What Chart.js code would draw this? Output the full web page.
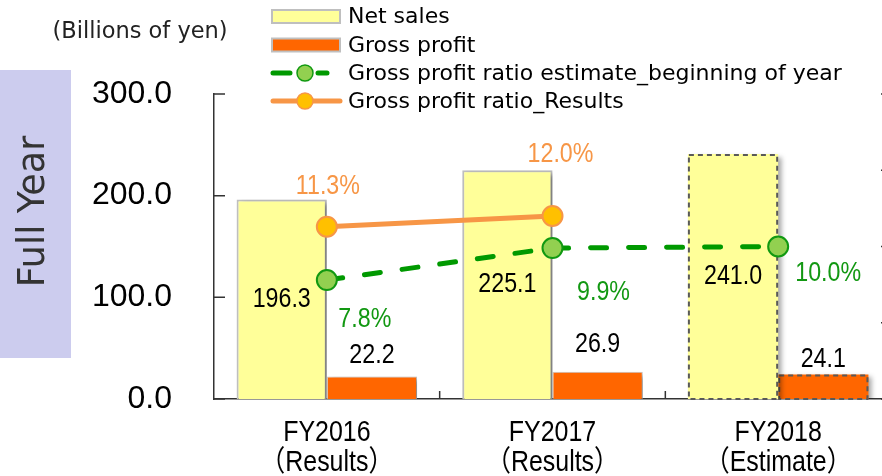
<!DOCTYPE html>
<html><head><meta charset="utf-8">
<script src="https://cdn.jsdelivr.net/npm/chart.js@4.4.1/dist/chart.umd.min.js"></script>
<style>
html,body{margin:0;padding:0;overflow:hidden;background:#fff;width:882px;height:476px}
#wrap{position:absolute;left:0;top:0;width:891px;height:476px}
</style>
</head><body><div id="wrap"><canvas id="c" width="891" height="476"></canvas></div>
<script>
// ---- data ----
const categories = [['FY2016', '（Results）'], ['FY2017', '（Results）'], ['FY2018', '（Estimate）']];
const netSales = [196.3, 225.1, 241.0];
const grossProfit = [22.2, 26.9, 24.1];
const ratioEstimate = [7.8, 9.9, 10.0];
const ratioResults = [11.3, 12.0, null];
const isEstimate = [false, false, true];
const seriesNames = ['Net sales', 'Gross profit', 'Gross profit ratio estimate_beginning of year', 'Gross profit ratio_Results'];
const unitLabel = '(Billions of yen)';
const panelLabel = 'Full Year';
const amountTicks = [0, 100, 200, 300];
const ratioTicks = [0, 5, 10, 15, 20];

const SANS = "'Liberation Sans', 'Noto Sans CJK JP', sans-serif";
const DEJAVU = "'DejaVu Sans', sans-serif";

// draw horizontally condensed text (mimics the narrow Japanese gothic digits)
function condensedText(ctx, text, x, y, size, color, squeeze, baseline) {
  ctx.save();
  ctx.translate(x, y);
  ctx.scale(squeeze, 1);
  ctx.fillStyle = color;
  ctx.font = size + 'px ' + SANS;
  ctx.textAlign = 'center';
  ctx.textBaseline = baseline;
  ctx.fillText(text, 0, 0);
  ctx.restore();
}

// ---- plugins ----
const decorPlugin = {
  id: 'decor',
  beforeDraw(chart) {
    const ctx = chart.ctx;
    ctx.save();
    ctx.fillStyle = '#ccccee';
    ctx.fillRect(0, 70, 71, 288);
    ctx.fillStyle = '#333';
    ctx.font = '36.5px ' + DEJAVU;
    ctx.textAlign = 'center';
    ctx.textBaseline = 'alphabetic';
    ctx.translate(44, 211.5);
    ctx.rotate(-Math.PI / 2);
    ctx.fillText(panelLabel, 0, 0);
    ctx.restore();
    ctx.save();
    ctx.fillStyle = '#222';
    ctx.font = '22.5px ' + DEJAVU;
    ctx.textAlign = 'center';
    ctx.textBaseline = 'alphabetic';
    ctx.fillText(unitLabel, 140, 38);
    ctx.restore();
  },
  beforeDatasetDraw(chart, args) {
    const ds = chart.data.datasets[args.index];
    if (ds.type === 'bar') {
      const ctx = chart.ctx;
      ctx.save();
      ctx.shadowColor = 'rgba(0,0,0,0.35)';
      ctx.shadowBlur = 5;
      ctx.shadowOffsetX = 4;
      ctx.shadowOffsetY = 3;
    }
  },
  afterDatasetDraw(chart, args) {
    const ds = chart.data.datasets[args.index];
    if (ds.type === 'bar') {
      const ctx = chart.ctx;
      ctx.restore();
      ctx.save();
      ctx.strokeStyle = '#595959';
      ctx.lineWidth = 2;
      ctx.setLineDash([5, 4]);
      args.meta.data.forEach((el, i) => {
        if (!isEstimate[i]) return;
        const p = el.getProps(['x', 'y', 'base', 'width'], true);
        ctx.strokeRect(p.x - p.width / 2 + 1, p.y + 1, p.width - 2, p.base - p.y - 1);
      });
      ctx.restore();
    }
  },
  afterDraw(chart) {
    const ctx = chart.ctx;
    const a = chart.chartArea;
    const {x, y, y1} = chart.scales;
    ctx.save();
    ctx.strokeStyle = '#333';
    ctx.lineWidth = 1.5;
    ctx.beginPath();
    amountTicks.forEach(v => {
      const py = y.getPixelForValue(v);
      ctx.moveTo(a.left, py); ctx.lineTo(a.left + 11, py);
    });
    ratioTicks.forEach(v => {
      const py = y1.getPixelForValue(v);
      ctx.moveTo(a.right - 10, py); ctx.lineTo(a.right, py);
    });
    for (let i = 0; i < categories.length - 1; i++) {
      const px = (x.getPixelForValue(i) + x.getPixelForValue(i + 1)) / 2;
      ctx.moveTo(px, a.bottom); ctx.lineTo(px, a.bottom - 8);
    }
    ctx.stroke();
    ctx.restore();

    // category labels, placed by the category scale
    categories.forEach((lines, i) => {
      const px = x.getPixelForValue(i);
      lines.forEach((t, j) => {
        condensedText(ctx, t, px, a.bottom + 42 + j * 30, 29, '#000', 0.86, 'alphabetic');
      });
    });

    // legend
    const rows = [16.5, 45, 73, 101];
    chart.data.datasets.forEach((ds, i) => {
      const ry = rows[i];
      ctx.save();
      if (ds.type === 'bar') {
        ctx.fillStyle = ds.backgroundColor;
        ctx.fillRect(272, ry - 6.5, 68, 13);
        ctx.strokeStyle = '#bfbfbf';
        ctx.lineWidth = 2;
        ctx.strokeRect(272, ry - 6.5, 68, 13);
      } else {
        ctx.strokeStyle = ds.borderColor;
        ctx.lineWidth = 5;
        ctx.lineCap = 'round';
        ctx.beginPath();
        if (ds.borderDash) {
          ctx.moveTo(273, ry); ctx.lineTo(290, ry);
          ctx.moveTo(318, ry); ctx.lineTo(327, ry);
        } else {
          ctx.moveTo(273, ry); ctx.lineTo(340, ry);
        }
        ctx.stroke();
        ctx.beginPath();
        ctx.arc(305, ry, 8, 0, Math.PI * 2);
        ctx.fillStyle = ds.pointBackgroundColor;
        ctx.fill();
        ctx.lineWidth = 1.5;
        ctx.strokeStyle = ds.pointBorderColor;
        ctx.stroke();
      }
      ctx.fillStyle = '#000';
      ctx.font = '22px ' + DEJAVU;
      ctx.textAlign = 'left';
      ctx.textBaseline = 'middle';
      ctx.fillText(ds.label, 348, ry + 1);
      ctx.restore();
    });
  }
};

const valueLabelPlugin = {
  id: 'valueLabels',
  afterDatasetsDraw(chart, args, opts) {
    const ctx = chart.ctx;
    opts.items.forEach(item => {
      const meta = chart.getDatasetMeta(item.ds);
      const data = chart.data.datasets[item.ds].data;
      meta.data.forEach((el, i) => {
        const v = data[i];
        if (v === null || v === undefined) return;
        const p = el.getProps(['x', 'y', 'base'], true);
        const cx = p.x + (item.dx ? item.dx[i] : 0);
        let cy = item.place === 'middle' ? (p.y + p.base) / 2 : p.y;
        cy += item.dy ? item.dy[i] : 0;
        condensedText(ctx, item.fmt(v), cx, cy, 27, item.color, 0.86, 'middle');
      });
    });
  }
};

const pct = v => v.toFixed(1) + '%';
const num = v => v.toFixed(1);

new Chart(document.getElementById('c'), {
  type: 'bar',
  data: {
    labels: categories,
    datasets: [
      { type: 'bar', label: seriesNames[0], data: netSales, yAxisID: 'y', order: 2,
        backgroundColor: '#ffff99', borderColor: '#bfbfbf',
        borderWidth: c => isEstimate[c.dataIndex] ? 0 : 2,
        categoryPercentage: 0.8, barPercentage: 1 },
      { type: 'bar', label: seriesNames[1], data: grossProfit, yAxisID: 'y', order: 2,
        backgroundColor: '#ff6600', borderColor: '#c8c8c8',
        borderWidth: c => isEstimate[c.dataIndex] ? 0 : 1,
        categoryPercentage: 0.8, barPercentage: 1 },
      { type: 'line', label: seriesNames[2], data: ratioEstimate, yAxisID: 'y1', order: 1,
        borderColor: '#009900', borderWidth: 5, borderDash: [16, 22], borderCapStyle: 'round',
        pointRadius: 10, pointHoverRadius: 10, pointBackgroundColor: '#92d050', pointBorderColor: '#119911',
        pointBorderWidth: 2, fill: false, tension: 0 },
      { type: 'line', label: seriesNames[3], data: ratioResults, yAxisID: 'y1', order: 0,
        borderColor: '#f79646', borderWidth: 5,
        pointRadius: 10, pointHoverRadius: 10, pointBackgroundColor: '#ffc000', pointBorderColor: '#f79646',
        pointBorderWidth: 2, fill: false, tension: 0 }
    ]
  },
  options: {
    responsive: false,
    devicePixelRatio: 1,
    animation: false,
    events: [],
    layout: { autoPadding: false, padding: { top: 94, left: 0, right: 0, bottom: 0 } },
    scales: {
      x: {
        type: 'category', offset: true,
        grid: { display: false, drawTicks: false },
        border: { display: true, color: '#333', width: 1.5 },
        ticks: { display: false },
        afterFit: s => { s.height = 77; s.paddingLeft = 0; s.paddingRight = 0; }
      },
      y: {
        position: 'left', min: 0, max: 300,
        afterBuildTicks: s => { s.ticks = amountTicks.map(v => ({ value: v })); },
        ticks: { callback: v => num(v), color: '#000', font: { family: "'Liberation Sans', sans-serif", size: 32 }, padding: 42 },
        grid: { display: false, drawTicks: false },
        border: { display: true, color: '#333', width: 1.5 },
        afterFit: s => { s.width = 214; }
      },
      y1: {
        position: 'right', min: 0, max: 20, display: false,
        grid: { display: false }
      }
    },
    plugins: {
      legend: { display: false },
      tooltip: { enabled: false },
      valueLabels: {
        items: [
          { ds: 0, place: 'middle', color: '#000', fmt: num },
          { ds: 1, place: 'top', color: '#000', fmt: num, dy: [-21, -27, -15] },
          { ds: 2, place: 'top', color: '#129812', fmt: pct, dx: [38, 51, 50], dy: [39, 45, 27] },
          { ds: 3, place: 'top', color: '#f79646', fmt: pct, dx: [1, 8, 0], dy: [-40, -61, 0] }
        ]
      }
    }
  },
  plugins: [decorPlugin, valueLabelPlugin]
});
</script>
</body></html>
